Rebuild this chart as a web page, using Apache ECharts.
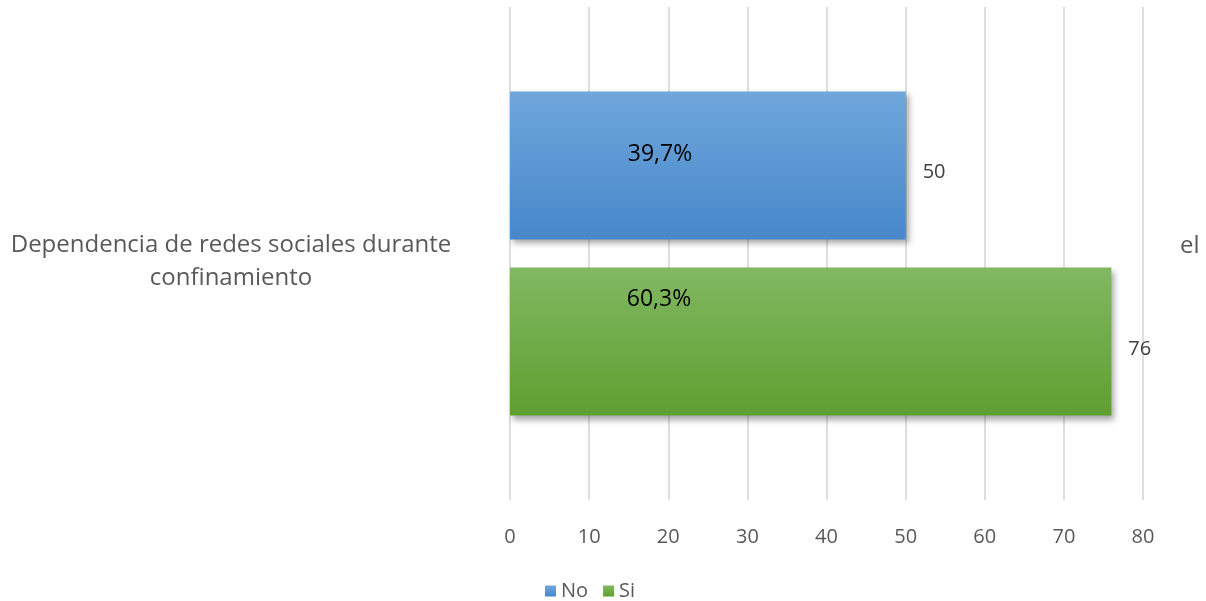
<!DOCTYPE html>
<html>
<head>
<meta charset="utf-8">
<script src="https://cdn.jsdelivr.net/npm/echarts@6/dist/echarts.min.js"></script>
<style>
html,body{margin:0;padding:0;background:#fff;}
#chart{width:1206px;height:601px;}
</style>
</head>
<body>
<div id="chart"></div>
<script>
// ---- data ----
const categories = ['Dependencia de redes sociales durante el confinamiento'];
const seriesNames = ['No', 'Si'];
const noValues = [50];
const siValues = [76];
const noPercent = [39.7];
const siPercent = [60.3];
const xTicks = { min: 0, max: 80, interval: 10 };

// ---- styles ----
const FONT = '"Open Sans", "Liberation Sans", sans-serif';
function grad(top, bottom) {
  return new echarts.graphic.LinearGradient(0, 0, 0, 1, [
    { offset: 0, color: top }, { offset: 1, color: bottom }
  ]);
}
const barCommon = {
  type: 'bar',
  barWidth: 148,
  barGap: '19%',
  yAxisIndex: 0
};
const shadow = { shadowBlur: 6, shadowOffsetX: 3, shadowOffsetY: 4, shadowColor: 'rgba(0,0,0,0.35)' };
const fmtPct = v => String(v).replace('.', ',') + '%';
const catText = { fontFamily: FONT, fontSize: 24, color: '#595959', lineHeight: 33 };

const chart = echarts.init(document.getElementById('chart'), null, { renderer: 'canvas' });
chart.setOption({
  animation: false,
  backgroundColor: '#ffffff',
  textStyle: { fontFamily: FONT },
  grid: { left: 510, right: 63, top: 7, bottom: 101, containLabel: false },
  legend: {
    data: seriesNames,
    left: 545,
    top: 581,
    padding: 0,
    itemWidth: 11,
    itemHeight: 11,
    itemGap: 15,
    icon: 'rect',
    textStyle: { fontFamily: FONT, fontSize: 20, color: '#595959', padding: [4, 0, 0, 0] }
  },
  xAxis: {
    type: 'value',
    min: xTicks.min, max: xTicks.max, interval: xTicks.interval,
    axisLine: { show: false },
    axisTick: { show: false },
    axisLabel: { fontFamily: FONT, fontSize: 20, color: '#595959', margin: 27 },
    splitLine: { show: true, lineStyle: { color: '#d6d6d6', width: 1.6 } }
  },
  yAxis: [
    {
      type: 'category',
      data: categories,
      inverse: true,
      axisLine: { show: false },
      axisTick: { show: false },
      axisLabel: {
        fontFamily: FONT, fontSize: 24, color: '#595959',
        margin: 279, align: 'center',
        formatter: v => {
          const w = v.split(' ');
          const i = w.indexOf('el');
          return '{s|}\n{t|' + w.slice(0, i).join(' ') + '}\n{t|' + w.slice(i + 1).join(' ') + '}';
        },
        rich: { s: { height: 16, lineHeight: 16 }, t: catText }
      }
    },
    {
      type: 'category',
      data: categories,
      inverse: true,
      position: 'right',
      axisLine: { show: false },
      axisTick: { show: false },
      axisLabel: {
        fontFamily: FONT, fontSize: 24, color: '#595959',
        margin: 37, align: 'left',
        formatter: v => {
          const w = v.split(' ');
          return '{t|' + w[w.indexOf('el')] + '}\n{s|}';
        },
        rich: { s: { height: 14, lineHeight: 14 }, t: catText }
      }
    }
  ],
  series: [
    Object.assign({}, barCommon, {
      name: seriesNames[0],
      data: noValues,
      itemStyle: Object.assign({ color: grad('#6fa7dc', '#4787ca') }, shadow),
      label: { show: true, position: 'right', distance: 17, offset: [0, 7], fontFamily: FONT, fontSize: 20, color: '#404040' }
    }),
    Object.assign({}, barCommon, {
      name: seriesNames[1],
      data: siValues,
      itemStyle: Object.assign({ color: grad('#81b862', '#5f9f30') }, shadow),
      label: { show: true, position: 'right', distance: 17, offset: [0, 8], fontFamily: FONT, fontSize: 20, color: '#404040' }
    }),
    // transparent overlays on a mirrored axis carrying the percentage labels
    Object.assign({}, barCommon, {
      name: 'pctNo', yAxisIndex: 1, silent: true,
      data: noValues,
      itemStyle: { color: 'rgba(0,0,0,0)' },
      label: { show: true, position: [150, 63], align: 'center', verticalAlign: 'middle',
        fontFamily: FONT, fontSize: 23, color: '#000000',
        formatter: p => fmtPct(noPercent[p.dataIndex]) }
    }),
    Object.assign({}, barCommon, {
      name: 'pctSi', yAxisIndex: 1, silent: true,
      data: siValues,
      itemStyle: { color: 'rgba(0,0,0,0)' },
      label: { show: true, position: [149, 32], align: 'center', verticalAlign: 'middle',
        fontFamily: FONT, fontSize: 23, color: '#000000',
        formatter: p => fmtPct(siPercent[p.dataIndex]) }
    })
  ]
});
</script>
</body>
</html>
